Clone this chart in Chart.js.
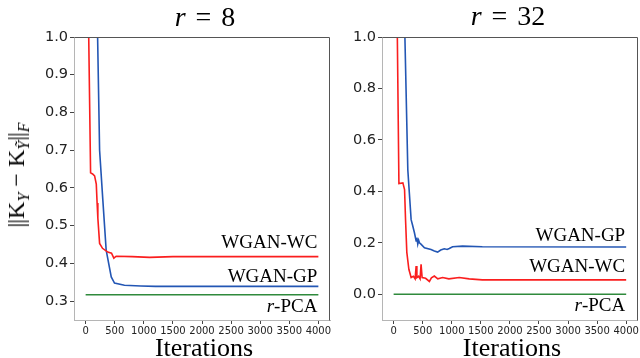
<!DOCTYPE html>
<html>
<head>
<meta charset="utf-8">
<script src="https://cdn.jsdelivr.net/npm/chart.js@4/dist/chart.umd.min.js"></script>
<style>
  body { margin: 0; background: #fff; }
  #wrap { position: relative; width: 640px; height: 358px; overflow: hidden; }
  canvas { position: absolute; left: 0; top: 0; }
  .math { position: absolute; font-family: "Liberation Serif", serif; color: #000; white-space: nowrap; line-height: 1; }
  .ttl { font-size: 28px; transform: translate(-50%, -50%); }
  .ttl .eq { margin: 0 10px; }
  #ylab { font-size: 24px; transform: translate(-50%, -50%) rotate(-90deg); }
  #ylab .bar { letter-spacing: -1px; margin-right: 1px; }
  #ylab sub { font-size: 16px; font-style: italic; vertical-align: -5px; line-height: 0; }
</style>
</head>
<body>
<div id="wrap">
  <canvas id="c8" width="640" height="358"></canvas>
  <canvas id="c32" width="640" height="358"></canvas>
  <div class="math ttl" style="left:205px; top:17px;"><i>r</i><span class="eq">=</span>8</div>
  <div class="math ttl" style="left:508px; top:16px;"><i>r</i><span class="eq">=</span>32</div>
  <div class="math" id="ylab" style="left:16px; top:175px;"><span class="bar">||</span>K<sub>Y</sub> &minus; K<sub>&#7928;</sub><span class="bar">||</span><sub>F</sub></div>
</div>
<script>
const xTicks = [0, 500, 1000, 1500, 2000, 2500, 3000, 3500, 4000];
const yTicks8 = [0.3, 0.4, 0.5, 0.6, 0.7, 0.8, 0.9, 1.0];
const yTicks32 = [0.0, 0.2, 0.4, 0.6, 0.8, 1.0];

// r = 8 panel
const wc8Iter = [0, 85, 120, 154, 183, 197, 210, 240, 290, 380, 445, 485, 525, 800, 1100, 1500, 4000];
const wc8Val  = [1.6, 0.64, 0.637, 0.632, 0.61, 0.56, 0.52, 0.453, 0.44, 0.43, 0.427, 0.414, 0.419, 0.418, 0.416, 0.418, 0.418];
const gp8Iter = [0, 240, 296, 353, 440, 496, 667, 950, 1200, 4000];
const gp8Val  = [2.8, 0.70, 0.567, 0.435, 0.364, 0.348, 0.342, 0.34, 0.339, 0.339];
const pca8Iter = [0, 4000];
const pca8Val  = [0.317, 0.317];

// r = 32 panel
const wc32Iter = [0, 91, 159, 188, 205, 227, 262, 301, 340, 370, 387, 400, 430, 455, 472, 490, 550, 615, 650, 700, 760, 843, 950, 1128, 1300, 1526, 4000];
const wc32Val  = [2.34, 0.43, 0.433, 0.407, 0.29, 0.163, 0.097, 0.065, 0.07, 0.06, 0.11, 0.065, 0.07, 0.06, 0.116, 0.065, 0.062, 0.05, 0.064, 0.071, 0.06, 0.065, 0.06, 0.065, 0.06, 0.056, 0.056];
const gp32Iter = [0, 244, 270, 301, 324, 358, 387, 400, 415, 430, 444, 470, 530, 643, 700, 757, 810, 871, 920, 957, 1014, 1185, 1526, 4000];
const gp32Val  = [3.0, 0.484, 0.395, 0.29, 0.27, 0.239, 0.207, 0.22, 0.195, 0.21, 0.2, 0.195, 0.181, 0.174, 0.168, 0.164, 0.172, 0.177, 0.174, 0.178, 0.185, 0.187, 0.185, 0.184];
const pca32Iter = [0, 4000];
const pca32Val  = [0.0, 0.0];

// series labels at the right end of each panel
const labels8  = [{ text: "WGAN-WC", y: 0.454 }, { text: "WGAN-GP", y: 0.363 }, { text: "-PCA", ital: "r", y: 0.284 }];
const labels32 = [{ text: "WGAN-GP", y: 0.225 }, { text: "WGAN-WC", y: 0.105 }, { text: "-PCA", ital: "r", y: -0.047 }];

const RED = "#fa1e1e", BLUE = "#2356b4", GREEN = "#2f8a3c";

function pts(xs, ys) {
    return xs.map((x, i) => ({ x: x, y: ys[i] }));
}

function series(xs, ys, color) {
    return { data: pts(xs, ys), borderColor: color, borderWidth: 1.6, pointRadius: 0, tension: 0, fill: false };
}

const decor = {
    id: "decor",
    afterDatasetsDraw(chart, args, opts) {
        const ctx = chart.ctx, a = chart.chartArea;
        const xs = chart.scales.x, ys = chart.scales.y;
        ctx.save();
        // top and right spines
        ctx.strokeStyle = "#555";
        ctx.lineWidth = 1;
        ctx.beginPath();
        ctx.moveTo(Math.round(a.left) + 0.5, Math.round(a.top) + 0.5);
        ctx.lineTo(Math.round(a.right) - 0.5, Math.round(a.top) + 0.5);
        ctx.lineTo(Math.round(a.right) - 0.5, Math.round(a.bottom) + 0.5);
        ctx.stroke();
        // series labels
        ctx.fillStyle = "#000";
        ctx.textBaseline = "middle";
        ctx.textAlign = "right";
        const xr = xs.getPixelForValue(4000) - 1;
        opts.items.forEach(it => {
            const y = ys.getPixelForValue(it.y);
            ctx.font = '19px "Liberation Serif"';
            ctx.fillText(it.text, xr, y);
            if (it.ital) {
                const w = ctx.measureText(it.text).width;
                ctx.font = 'italic 19px "Liberation Serif"';
                ctx.fillText(it.ital, xr - w, y);
            }
        });
        // x axis title
        ctx.font = '26px "Liberation Serif"';
        ctx.textAlign = "center";
        ctx.textBaseline = "alphabetic";
        ctx.fillText("Iterations", (xs.getPixelForValue(0) + xs.getPixelForValue(4000)) / 2 + 2, 356);
        ctx.restore();
    }
};

function makeChart(id, cfg) {
    return new Chart(document.getElementById(id), {
        type: "line",
        data: {
            datasets: [
                series(cfg.wcIter, cfg.wcVal, RED),
                series(cfg.gpIter, cfg.gpVal, BLUE),
                series(cfg.pcaIter, cfg.pcaVal, GREEN)
            ]
        },
        options: {
            responsive: false,
            animation: false,
            events: [],
            layout: { padding: { left: cfg.padLeft, right: cfg.padRight, top: 37, bottom: 0 } },
            plugins: {
                legend: { display: false },
                tooltip: { enabled: false },
                decor: { items: cfg.labels }
            },
            scales: {
                x: {
                    type: "linear",
                    min: -200,
                    max: 4200,
                    afterBuildTicks: s => { s.ticks = xTicks.map(v => ({ value: v })); },
                    afterFit: s => { s.height = 38; },
                    ticks: {
                        autoSkip: false,
                        maxRotation: 0,
                        padding: 1,
                        color: "#222",
                        font: { family: "DejaVu Sans", size: 10 },
                        callback: v => String(v)
                    },
                    grid: { drawOnChartArea: false, tickLength: 4, color: "#444" },
                    border: { color: "#b5b5b5" }
                },
                y: {
                    type: "linear",
                    min: cfg.yMin,
                    max: 1.0,
                    afterBuildTicks: s => { s.ticks = cfg.yTicks.map(v => ({ value: v })); },
                    afterFit: s => { s.width = cfg.yWidth; },
                    ticks: {
                        padding: 2,
                        color: "#222",
                        font: { family: "DejaVu Sans", size: 14.5 },
                        callback: v => Number(v).toFixed(1)
                    },
                    grid: { drawOnChartArea: false, tickLength: 4, color: "#444" },
                    border: { color: "#b5b5b5" }
                }
            }
        },
        plugins: [decor]
    });
}

makeChart("c8", {
    wcIter: wc8Iter, wcVal: wc8Val, gpIter: gp8Iter, gpVal: gp8Val, pcaIter: pca8Iter, pcaVal: pca8Val,
    yMin: 0.25, yTicks: yTicks8, yWidth: 74, padLeft: 0, padRight: 310, labels: labels8
});
makeChart("c32", {
    wcIter: wc32Iter, wcVal: wc32Val, gpIter: gp32Iter, gpVal: gp32Val, pcaIter: pca32Iter, pcaVal: pca32Val,
    yMin: -0.1, yTicks: yTicks32, yWidth: 40, padLeft: 342, padRight: 2, labels: labels32
});
</script>
</body>
</html>
